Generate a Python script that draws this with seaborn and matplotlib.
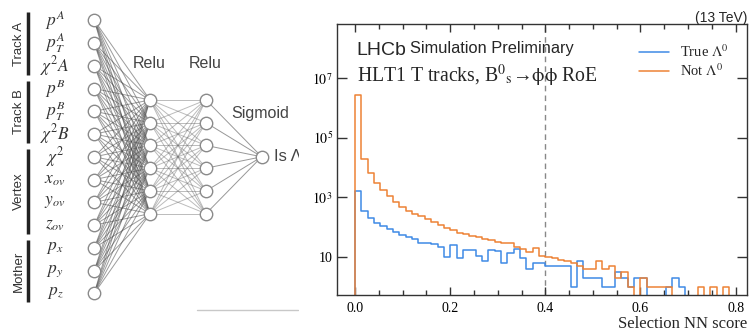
import numpy as np
import pandas as pd
import matplotlib
matplotlib.use("Agg")
import matplotlib.pyplot as plt
import seaborn as sns
from matplotlib.lines import Line2D
from matplotlib.ticker import NullLocator, MultipleLocator

# ---------------- NN diagram data ----------------
input_labels = [r"$p^A$", r"$p_T^A$", r"$\chi^2A$", r"$p^B$", r"$p_T^B$", r"$\chi^2B$",
                r"$\chi^2$", r"$x_{ov}$", r"$y_{ov}$", r"$z_{ov}$", r"$p_x$", r"$p_y$", r"$p_z$"]
group_labels = ["Track A", "Track B", "Vertex", "Mother"]
group_sizes = [3, 3, 4, 3]
layer_sizes = [13, 6, 6, 1]
layer_names = ["", "Relu", "Relu", "Sigmoid"]
output_label = "Is Λ"

# ---------------- histogram data ----------------
bin_width = 1 / 75
n_bins = 60
true_counts = [1600, 340, 200, 140, 105, 85, 66, 54, 46, 40,
               30, 30, 27, 22, 10, 24, 9, 17, 17, 11,
               7, 17, 16, 6, 13, 18, 9, 4, 6, 6,
               5, 5, 5, 5, 1, 7, 2, 2, 2, 1,
               1, 3, 2, 1, 2, 2, 0, 0, 0, 1,
               2, 1, 0, 0, 0, 0, 0, 0, 0, 0]
not_counts = [2.7e6, 18600, 6300, 3100, 1750, 1100, 710, 480, 345, 280,
              230, 185, 145, 116, 95, 80, 64, 60, 50, 45,
              41, 37, 32, 30, 29, 21, 18, 14, 20, 11,
              10, 9, 8, 7, 6, 5, 4, 4, 7, 4,
              5, 2, 3, 1, 0, 2, 1, 1, 1, 1,
              0, 0, 0, 0, 1, 0, 1, 0, 1, 0]
hist_labels = [r"True $\Lambda^{0}$", r"Not $\Lambda^{0}$"]
hist_colors = ["#3f8ae6", "#ee8236"]
xtick_values = [0.0, 0.2, 0.4, 0.6, 0.8]
ytick_values = [1e1, 1e3, 1e5, 1e7]
ytick_labels = ["10", r"$10^{3}$", r"$10^{5}$", r"$10^{7}$"]
cut_value = 0.4

sns.set_style("ticks")
plt.rcParams["font.family"] = ["Liberation Serif", "DejaVu Serif"]
plt.rcParams["mathtext.fontset"] = "stix"

W, H = 749, 332
fig = plt.figure(figsize=(W / 100, H / 100), dpi=100)

# ================= Left: neural network diagram =================
ax_nn = fig.add_axes([0, 0, 299 / W, 1])
ax_nn.set_xlim(0, 299)
ax_nn.set_ylim(H, 0)
ax_nn.axis("off")

layer_x = [94.3, 150.0, 206.0, 261.7]
spacing = 22.75
center_y = 156.8
node_pos = []
for lx, n in zip(layer_x, layer_sizes):
    ys = center_y + (np.arange(n) - (n - 1) / 2) * spacing
    node_pos.append([(lx, y) for y in ys])

edge_styles = [("#4a4a4a", 0.55), ("#6a6a6a", 0.45), ("#606060", 0.65)]
for li in range(len(layer_sizes) - 1):
    col, a = edge_styles[li]
    for (x0, y0) in node_pos[li]:
        for (x1, y1) in node_pos[li + 1]:
            ax_nn.plot([x0, x1], [y0, y1], color=col, alpha=a, lw=0.7, zorder=1)

for layer in node_pos:
    xs = [p[0] for p in layer]
    ys = [p[1] for p in layer]
    ax_nn.scatter(xs, ys, s=80, facecolor="white", edgecolor="#8a8a8a", linewidth=1.0, zorder=3)

for lab, (x, y) in zip(input_labels, node_pos[0]):
    ax_nn.text(55, y, lab, fontsize=12.5, color="#333333", ha="center", va="center")

start = 0
for g, n in zip(group_labels, group_sizes):
    y_top = node_pos[0][start][1] - 8
    y_bot = node_pos[0][start + n - 1][1] + 9
    ax_nn.plot([27.5, 27.5], [y_top, y_bot], color="#222222", lw=2.5, solid_capstyle="butt")
    ax_nn.text(19, (y_top + y_bot) / 2, g, rotation=90, fontsize=9.5, color="#333333",
               ha="center", va="center", family=["Liberation Sans", "DejaVu Sans"])
    start += n

name_y = [None, 63.3, 63.3, 113.3]
for lx, nm, ny in zip(layer_x, layer_names, name_y):
    if nm:
        ax_nn.text(lx - 1, ny, nm, fontsize=11.5, color="#444444", ha="center", va="center",
                   family=["Liberation Sans", "DejaVu Sans"])
ax_nn.text(274, center_y, output_label, fontsize=12, color="#444444", ha="left", va="center",
           family=["Liberation Sans", "DejaVu Sans"], clip_on=True)
ax_nn.plot([197, 298], [310, 310], color="#c8c8c8", lw=1.0)

# ================= Right: histogram =================
ax = fig.add_axes([337 / W, 1 - 295 / H, 410 / W, 271 / H])
edges = (np.arange(n_bins + 1) * bin_width).tolist()
rows = []
for lab, counts in zip(hist_labels, [true_counts, not_counts]):
    rows.append({"score": edges[0], "count": 0.0, "label": lab})
    for e, c in zip(edges[:-1], counts):
        rows.append({"score": e, "count": float(c), "label": lab})
    rows.append({"score": edges[-1], "count": float(counts[-1]), "label": lab})
df = pd.DataFrame(rows)
ax.set_yscale("log")
sns.lineplot(data=df, x="score", y="count", hue="label", hue_order=hist_labels,
             palette={hist_labels[0]: hist_colors[0], hist_labels[1]: hist_colors[1]},
             estimator=None, sort=False, drawstyle="steps-post", legend=False,
             linewidth=1.1, ax=ax)

ax.set_xlim(-0.038, 0.824)
ax.set_ylim(0.52, 6.6e8)
ax.axvline(cut_value, color="#888888", lw=1.0, dashes=(4, 3), zorder=0)

ax.set_xticks(xtick_values, [f"{v:.1f}" for v in xtick_values])
ax.xaxis.set_minor_locator(MultipleLocator(0.05))
ax.set_yticks(ytick_values, ytick_labels)
ax.yaxis.set_minor_locator(NullLocator())
ax.tick_params(which="both", direction="in", top=True, right=True, colors="#333333",
               labelcolor="black", labelsize=10)
ax.tick_params(which="major", length=6, width=1)
ax.tick_params(which="minor", length=3.5, width=1)
ax.tick_params(axis="x", which="major", pad=5)
ax.tick_params(axis="y", which="major", length=7, pad=3)
for sp in ax.spines.values():
    sp.set_color("#333333")
    sp.set_linewidth(1.0)
ax.set_ylabel("")
ax.set_xlabel("Selection NN score", fontsize=12, loc="right", labelpad=1)

ax.text(0.048, 0.886, "LHCb", transform=ax.transAxes, fontsize=14, va="baseline", ha="left",
        family=["Liberation Sans", "DejaVu Sans"])
ax.text(0.178, 0.893, "Simulation Preliminary", transform=ax.transAxes, fontsize=11.8,
        va="baseline", ha="left", family=["Liberation Sans", "DejaVu Sans"])
ax.text(0.048, 0.787, r"HLT1 T tracks, B$^{0}{}_{\rm s}$→$\mathrm{\phi\phi}$ RoE",
        transform=ax.transAxes, fontsize=14.2, va="baseline", ha="left")
ax.text(1.0, 1.008, "(13 TeV)", transform=ax.transAxes, fontsize=10, va="baseline", ha="right",
        family=["Liberation Sans", "DejaVu Sans"])

handles = [Line2D([], [], color=c, lw=1.1) for c in hist_colors]
ax.legend(handles, hist_labels, loc="upper left", bbox_to_anchor=(639 / W, 1 - 43.5 / H),
          bbox_transform=fig.transFigure, frameon=False, fontsize=10.5, handlelength=2.05,
          handletextpad=0.75, labelspacing=0.15, borderpad=0, borderaxespad=0)

fig.savefig("out.png", dpi=100)
